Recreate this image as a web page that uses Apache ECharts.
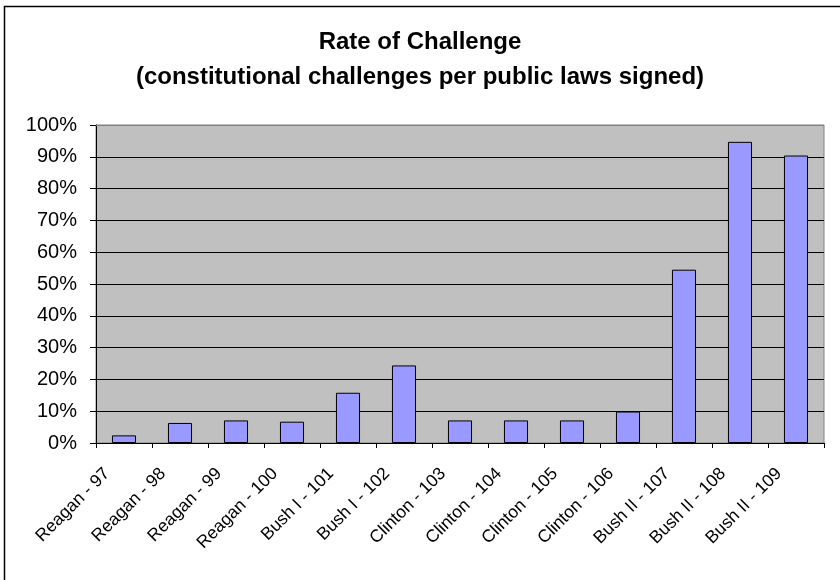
<!DOCTYPE html>
<html>
<head>
<meta charset="utf-8">
<script src="https://cdn.jsdelivr.net/npm/echarts@6/dist/echarts.min.js"></script>
<style>
  html, body { margin: 0; padding: 0; background: #ffffff; }
  #chart { width: 840px; height: 580px; }
</style>
</head>
<body>
<div id="chart"></div>
<script>
// Congress sessions, labelled by president
const categories = [
  'Reagan - 97', 'Reagan - 98', 'Reagan - 99', 'Reagan - 100',
  'Bush I - 101', 'Bush I - 102',
  'Clinton - 103', 'Clinton - 104', 'Clinton - 105', 'Clinton - 106',
  'Bush II - 107', 'Bush II - 108', 'Bush II - 109'
];
// Constitutional challenges per public laws signed, in percent
const challengeRate = [2.4, 6.3, 7.1, 6.7, 15.8, 24.4, 7.1, 7.1, 7.1, 9.9, 54.5, 94.7, 90.4];
// Percentage axis ticks
const yTicks = [0, 10, 20, 30, 40, 50, 60, 70, 80, 90, 100];

const FONT = 'Liberation Sans, Arial, sans-serif';
const chart = echarts.init(document.getElementById('chart'), null, { renderer: 'canvas' });

const gridBox = { left: 96, right: 16, top: 125, bottom: 137 };

chart.setOption({
  animation: false,
  backgroundColor: '#ffffff',
  title: {
    text: 'Rate of Challenge\n(constitutional challenges per public laws signed)',
    left: 'center',
    top: 20,
    textStyle: {
      fontFamily: FONT,
      fontWeight: 'bold',
      fontSize: 24,
      lineHeight: 35,
      color: '#000000'
    }
  },
  grid: Object.assign({
    show: true,
    backgroundColor: '#c0c0c0',
    borderColor: '#808080',
    borderWidth: 1
  }, gridBox),
  xAxis: {
    type: 'category',
    data: categories,
    boundaryGap: true,
    axisLine: { show: true, lineStyle: { color: '#000000', width: 1 } },
    axisTick: { show: true, alignWithLabel: false, length: 5, lineStyle: { color: '#000000' } },
    axisLabel: {
      interval: 0,
      rotate: 45,
      margin: 11,
      padding: [0, 24, 0, 0],
      fontFamily: FONT,
      fontSize: 17.5,
      color: '#000000'
    },
    splitLine: { show: false }
  },
  yAxis: {
    type: 'value',
    min: yTicks[0],
    max: yTicks[yTicks.length - 1],
    interval: 10,
    axisLine: { show: true, lineStyle: { color: '#000000', width: 1 } },
    axisTick: { show: true, length: 6, lineStyle: { color: '#000000' } },
    axisLabel: {
      margin: 19,
      fontFamily: FONT,
      fontSize: 20,
      color: '#000000',
      formatter: v => v + '%'
    },
    splitLine: {
      show: true,
      lineStyle: { color: '#000000', width: 1 }
    }
  },
  series: [{
    type: 'bar',
    data: challengeRate,
    barWidth: '43%',
    itemStyle: {
      color: '#9999ff',
      borderColor: '#000000',
      borderWidth: 1
    }
  }],
  graphic: [
    // top-most grid line is drawn in the plot border grey
    {
      type: 'line',
      z: 10,
      shape: { x1: gridBox.left, y1: gridBox.top + 0.5, x2: 840 - gridBox.right, y2: gridBox.top + 0.5 },
      style: { stroke: '#808080', lineWidth: 1 }
    },
    // chart frame
    {
      type: 'rect',
      z: 10,
      shape: { x: 4.5, y: 6.5, width: 900, height: 900 },
      style: { fill: null, stroke: '#000000', lineWidth: 1.5 }
    }
  ]
});
</script>
</body>
</html>
